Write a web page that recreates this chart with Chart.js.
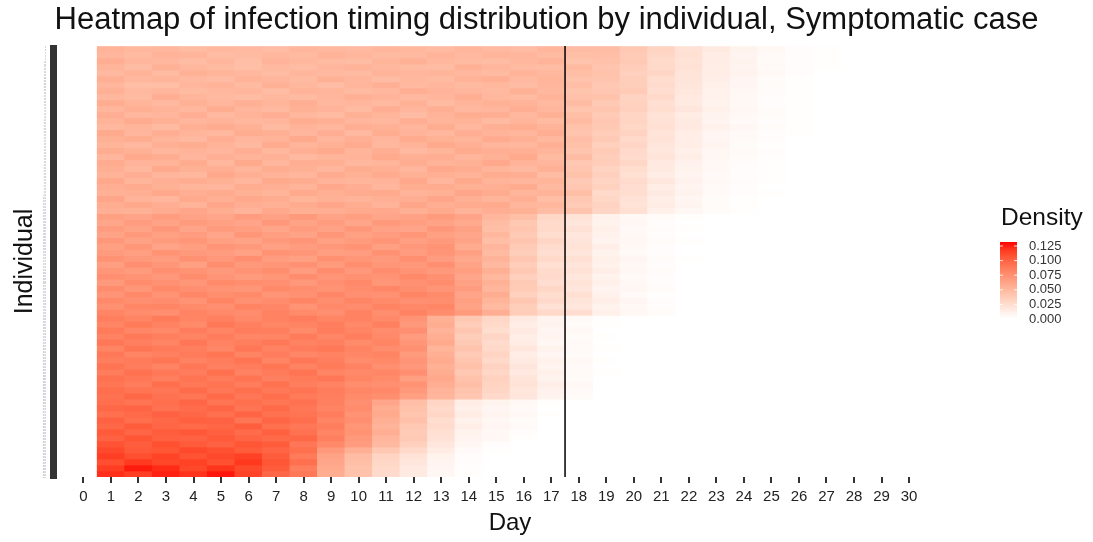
<!DOCTYPE html>
<html><head><meta charset="utf-8">
<style>html,body{margin:0;padding:0;background:#fff}#wrap{width:1093px;height:542px}</style>
<script src="https://cdn.jsdelivr.net/npm/chart.js@4"></script>
</head><body><div id="wrap"><canvas id="c" width="1093" height="542"></canvas></div>
<script>
const chartTitle = "Heatmap of infection timing distribution by individual, Symptomatic case";
const xAxisTitle = "Day";
const yAxisTitle = "Individual";
const legendTitle = "Density";
const legendTicks = [0.125, 0.100, 0.075, 0.050, 0.025, 0.000];
const dayTicks = [0,1,2,3,4,5,6,7,8,9,10,11,12,13,14,15,16,17,18,19,20,21,22,23,24,25,26,27,28,29,30];
const cutoffDay = 17.5;
const densityMax = 0.13;
const colorStops = ["#FFFFFF","#FFEDE6","#FFDACB","#FFC7B1","#FFB398","#FF9E81","#FF8969","#FF7251","#FF5838","#FF381E","#FF0000"];
// density x 1000; each row lists days 1, 2, 3, ... (days not listed have no density). Top row first.
const densityRows = [
[52,49,50,47,49,48,46,50,49,48,50,49,47,50,48,46,50,46,46,38,30,21,15,9,5,2,1],
[50,47,52,51,46,47,49,47,52,50,47,48,52,48,51,50,47,44,45,36,28,22,14,8,4,2,1],
[55,50,49,46,50,45,52,49,47,46,51,53,49,47,46,49,52,41,43,37,26,20,14,9,4,2,1],
[51,46,53,49,47,44,48,46,50,52,49,47,46,53,50,47,46,47,40,35,27,21,13,8,4,2,1],
[48,52,47,53,51,49,46,50,48,47,52,50,51,49,47,52,49,44,42,33,29,19,13,9,5,2],
[54,49,51,48,46,52,50,47,53,50,46,49,47,52,54,48,51,42,41,34,24,19,12,7,3,1],
[50,45,44,50,52,47,53,49,46,51,54,48,50,47,49,46,50,45,38,34,25,18,11,7,3,1],
[53,48,50,47,49,50,46,52,51,47,49,55,52,50,48,53,49,41,39,36,23,17,10,6,3,1],
[49,47,55,51,48,46,49,47,50,54,52,48,50,55,49,47,52,43,42,31,26,16,10,5,2,1],
[56,51,48,53,50,54,51,55,49,50,48,53,47,51,53,52,48,46,37,32,22,15,9,5,2,1],
[50,54,52,49,56,50,48,53,52,47,55,50,54,49,50,55,50,40,40,33,24,18,11,6,3,1],
[55,49,50,55,48,52,55,49,47,53,51,46,52,56,55,49,53,44,36,29,20,14,9,5,3,1],
[52,57,53,50,52,49,50,56,54,50,49,55,51,52,47,51,47,47,39,30,21,15,8,4,2,1],
[49,51,47,54,57,53,47,52,49,55,53,50,56,49,54,56,52,42,38,28,22,16,10,6,3,1],
[58,50,55,51,49,56,54,50,55,48,56,52,49,55,52,50,55,40,35,31,19,13,7,4,2,1],
[53,56,51,48,55,50,52,58,50,54,50,57,53,51,57,53,49,45,37,27,20,12,7,4,2],
[51,48,54,56,52,48,57,51,53,57,49,52,58,54,50,49,54,43,33,29,18,13,8,3,1],
[56,53,49,52,50,55,49,54,58,51,55,48,51,57,55,54,51,41,36,26,17,11,6,4,2],
[50,58,56,50,54,52,53,48,51,52,58,54,55,50,53,58,47,46,34,25,19,12,6,3,1],
[57,52,52,57,49,58,50,55,54,49,51,56,52,53,59,52,50,38,35,28,16,10,5,3,1],
[54,49,58,53,55,51,56,53,50,56,54,50,59,56,51,48,53,40,31,24,15,9,5,2,1],
[52,55,50,49,59,54,52,50,57,53,57,53,54,52,56,55,46,42,33,22,14,8,4,2,1],
[59,51,54,56,53,50,58,56,52,51,52,59,50,58,52,50,51,37,30,25,17,10,5,3,1],
[55,57,53,51,50,56,54,52,59,55,50,56,57,53,54,57,48,39,32,23,13,8,4,2],
[53,54,59,55,57,53,51,58,54,57,58,52,53,60,57,51,52,44,27,24,15,9,4,2,1],
[60,52,50,58,54,59,56,51,53,52,54,55,60,54,51,54,45,38,28,21,12,7,3,1],
[56,59,55,52,60,55,53,57,60,56,52,60,55,57,58,50,49,36,31,20,14,8,3,1],
[54,53,57,60,56,52,59,54,55,58,59,54,58,52,55,53,46,41,29,22,11,6,3,1],
[64,61,66,62,60,66,63,68,62,65,60,63,67,61,50,44,28,20,10,5,3,1],
[60,66,62,67,64,61,69,62,66,60,68,65,62,58,46,38,26,18,9,6,2],
[66,62,69,61,67,65,60,66,63,69,63,61,69,63,44,40,27,21,11,4,3,1],
[62,68,64,66,60,70,65,62,70,64,66,70,64,60,49,37,24,17,10,5,2],
[69,63,67,70,64,62,68,71,64,67,71,65,68,62,45,41,29,19,8,6,3,1],
[64,70,61,65,71,68,63,66,69,72,64,69,72,57,50,36,25,20,12,5,2],
[67,65,72,68,66,63,72,70,65,66,73,66,71,64,47,34,23,18,9,4,2],
[72,68,66,73,69,74,66,64,73,70,68,74,66,59,52,39,27,22,11,7,3,1],
[65,74,70,64,75,68,70,73,67,75,70,69,74,62,48,35,22,19,10,5,2],
[70,67,74,72,68,72,75,66,76,69,76,72,68,65,54,38,25,21,12,6,3],
[74,72,69,76,71,67,70,76,71,73,72,78,73,60,49,33,26,17,9,4,2],
[68,76,73,70,77,75,74,69,74,78,70,73,76,63,53,37,23,20,11,5,2],
[76,70,78,74,72,70,78,75,72,76,79,75,71,66,50,36,28,18,8,6,3],
[71,78,72,79,75,77,71,73,79,74,73,80,77,61,56,32,24,22,10,4,1],
[78,74,76,72,80,73,76,80,75,80,77,74,75,64,51,39,26,19,12,7,2],
[73,79,80,77,74,81,79,72,78,76,81,78,79,62,47,34,21,17,9,5,2],
[80,76,74,81,78,76,82,77,74,82,75,82,76,67,55,35,27,23,11,6,3],
[84,81,86,80,83,78,82,85,80,82,78,72,53,38,28,15,8,4,1],
[80,86,82,77,87,83,79,81,84,78,83,68,56,35,26,13,9,3,1],
[86,79,78,85,80,85,84,77,85,80,76,74,52,39,24,16,7,5],
[82,87,84,81,85,79,80,86,79,84,78,66,55,34,29,12,8,3,1],
[88,83,80,88,82,84,87,82,83,77,80,70,58,37,25,14,6,4],
[81,89,86,84,79,88,82,85,87,81,76,73,51,41,27,17,9,4,1],
[87,80,83,86,89,81,85,79,82,79,81,67,54,36,30,13,7,3],
[84,86,89,82,85,90,80,88,84,76,78,71,57,40,26,15,10,5,1],
[90,85,81,88,83,85,89,82,86,82,74,69,53,43,31,18,8,4],
[85,91,87,85,92,82,86,90,80,78,79,74,56,38,28,16,11,4,1],
[91,88,84,90,86,90,83,86,88,80,77,65,59,42,32,19,9,3],
[89,85,93,87,90,85,91,84,82,75,74,72,55,44,30,20,12,5],
[93,90,88,94,88,92,87,90,85,79,78,68,52,41,29,17,10,4],
[91,96,91,89,95,88,93,86,84,77,75,64,50,39,27,18,9,3],
[93,90,93,97,90,92,89,91,83,74,60,44,29,13,9,5,1],
[96,98,91,94,97,90,95,88,81,76,56,42,26,11,7,4],
[92,95,99,96,92,98,91,90,85,72,58,40,28,14,8,5,1],
[99,93,96,100,99,89,97,93,80,74,54,43,24,10,6,3],
[96,102,97,95,97,101,92,88,84,70,52,38,25,12,7,4],
[103,97,101,104,100,94,100,91,80,72,55,36,22,9,5,2],
[99,105,100,99,103,98,95,96,83,68,50,37,21,8,5,1],
[106,101,107,103,99,105,102,88,78,66,48,33,17,6,2],
[110,103,105,110,107,102,98,92,68,54,38,27,14,4,1],
[114,108,112,106,110,113,102,86,62,46,30,20,9,2],
[108,116,111,113,107,117,105,92,60,44,28,18,8,2],
[115,124,120,111,118,110,102,84,58,42,27,16,7,1],
[119,114,122,118,125,112,96,87,56,42,25,15,6,1]
];

const rowCount = densityRows.length;
function densityColor(v){
  const t = Math.min(1, Math.max(0, v / densityMax)) * (colorStops.length - 1);
  const i = Math.min(colorStops.length - 2, Math.floor(t)), f = t - i;
  const p = s => [1,3,5].map(k => parseInt(s.substr(k,2),16));
  const a = p(colorStops[i]), b = p(colorStops[i+1]);
  return "rgb(" + a.map((x,k) => Math.round(x + (b[k]-x)*f)).join(",") + ")";
}
const rowDatasets = densityRows.map((row, r) => ({
  type: "bar",
  label: "Individual " + (r + 1),
  data: row.map((v, d) => ({ x: d + 1, y: [r, r + 1] })),
  backgroundColor: row.map(v => densityColor(v / 1000)),
  borderWidth: 0, barPercentage: 1, categoryPercentage: 1, grouped: false, order: 2
}));
const cutoffDataset = {
  type: "line", label: "Cutoff",
  data: [{ x: cutoffDay, y: 0 }, { x: cutoffDay, y: rowCount }],
  borderColor: "#000", borderWidth: 1.5, pointRadius: 0, order: 0, clip: false
};
const densityLegend = {
  id: "densityLegend",
  afterDraw(chart) {
    const ctx = chart.ctx, left = 1000, width = 17, top = 242, bottom = 318.5;
    const step = (319 - 246) / 5;
    ctx.save();
    const g = ctx.createLinearGradient(0, bottom, 0, top);
    colorStops.forEach((c, i) => g.addColorStop(i / (colorStops.length - 1), c));
    ctx.fillStyle = g;
    ctx.fillRect(left, top, width, bottom - top);
    ctx.font = "13px 'Liberation Sans'";
    ctx.textBaseline = "middle"; ctx.textAlign = "left";
    legendTicks.forEach((t, i) => {
      const y = 246 + step * i;
      ctx.fillStyle = "#333";
      ctx.fillText(t.toFixed(3), 1029, y);
      ctx.strokeStyle = "rgba(255,255,255,.8)"; ctx.lineWidth = 1;
      ctx.beginPath(); ctx.moveTo(left, y); ctx.lineTo(left + 3, y);
      ctx.moveTo(left + width - 3, y); ctx.lineTo(left + width, y); ctx.stroke();
    });
    ctx.fillStyle = "#111";
    ctx.font = "24.5px 'Liberation Sans'";
    ctx.fillText(legendTitle, 1001, 218);
    ctx.restore();
  }
};
new Chart(document.getElementById("c"), {
  data: { datasets: [cutoffDataset, ...rowDatasets] },
  plugins: [densityLegend],
  options: {
    responsive: false, animation: false,
    layout: { padding: 0 },
    plugins: {
      legend: { display: false }, tooltip: { enabled: false },
      title: { display: true, text: chartTitle, color: "#111",
        font: { family: "'Liberation Sans'", size: 31, weight: "normal" },
        padding: { top: 2, bottom: 6.8 } }
    },
    scales: {
      x: {
        type: "linear", min: -0.96, max: 31.96, offset: false,
        grid: { offset: false, display: true, drawOnChartArea: false, drawTicks: true, tickLength: 6, tickWidth: 2, tickColor: "#333", lineWidth: 2 },
        border: { display: false },
        ticks: { autoSkip: false, maxRotation: 0, padding: 5, color: "#222",
          font: { family: "'Liberation Sans'", size: 15 }, callback: v => String(v) },
        afterBuildTicks: s => { s.ticks = dayTicks.map(value => ({ value })); },
        afterFit: s => { s.height = 65; },
        title: { display: true, text: xAxisTitle, color: "#111",
          font: { family: "'Liberation Sans'", size: 24 }, padding: { top: 0, bottom: 4 } }
      },
      y: {
        type: "linear", min: 0, max: rowCount, reverse: true,
        grid: { drawOnChartArea: false, tickLength: 7, tickWidth: 3, tickColor: "#333" },
        border: { display: false },
        ticks: { stepSize: 0.25, autoSkip: false, padding: 4, color: "#A9A5B5",
          font: { family: "'Liberation Sans'", size: 2 }, callback: v => String(Math.round(v * 4)) },
        afterFit: s => { s.width = 57; },
        title: { display: true, text: yAxisTitle, color: "#111",
          font: { family: "'Liberation Sans'", size: 25 }, padding: { top: 10, bottom: 0 } }
      },
      legendGutter: {
        type: "linear", position: "right", axis: "y",
        grid: { display: false }, border: { display: false }, ticks: { display: false },
        afterFit: s => { s.width = 130; }
      }
    }
  }
});
</script></body></html>
